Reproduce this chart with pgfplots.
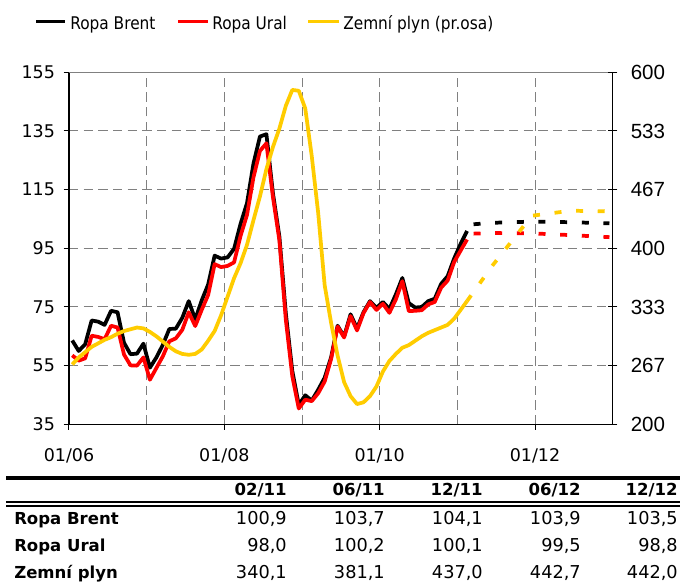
\documentclass[border=0pt]{standalone}
\usepackage{fontspec}
\setmainfont{DejaVu Sans}
\newfontfamily\legfont{DejaVu Sans}[FakeStretch=0.88]
\newfontfamily\arialfont{Liberation Sans}
\usepackage{pgfplots}
\usepackage{pgfplotstable}
\pgfplotsset{compat=1.18}

\definecolor{gasyellow}{RGB}{255,204,0}
\definecolor{gridgray}{RGB}{128,128,128}

% monthly values, x = months since 01/06 (+0.5 = middle of month)
\pgfplotstableread{
t     brent  ural   gas
0.5   63.6   58.5   268
1.5   60.0   56.7   276
2.5   62.3   57.5   282
3.5   70.4   65.2   288
4.5   70.0   64.8   292
5.5   68.9   64.0   296
6.5   73.7   68.6   299
7.5   73.2   68.0   303
8.5   62.8   58.8   306
9.5   58.9   55.1   308
10.5  59.1   55.0   310
11.5  62.5   57.8   309
12.5  54.3   50.2   305
13.5  57.8   54.2   300
14.5  62.1   58.2   294
15.5  67.5   63.3   288
16.5  67.6   64.3   283
17.5  71.3   67.2   280
18.5  77.0   73.2   279
19.5  70.8   68.5   280
20.5  77.2   74.0   285
21.5  82.7   79.1   295
22.5  92.5   89.6   306
23.5  91.5   88.6   324
24.5  91.9   89.0   345
25.5  94.8   90.2   366
26.5  103.3  99.2   383
27.5  110.4  106.4  404
28.5  123.9  119.2  432
29.5  133.1  128.2  459
30.5  133.9  130.8  490
31.5  113.9  112.6  515
32.5  99.1   97.8   536
33.5  72.8   70.6   562
34.5  53.2   51.4   580
35.5  41.6   40.4   579
36.5  44.9   43.4   559
37.5  43.1   42.9   505
38.5  46.8   45.6   440
39.5  50.9   49.6   358
40.5  57.9   57.3   315
41.5  68.6   68.3   278
42.5  64.9   64.6   248
43.5  72.5   71.9   232
44.5  67.7   67.0   223
45.5  73.2   72.9   225
46.5  77.0   76.7   232
47.5  74.7   74.0   243
48.5  76.7   76.1   260
49.5  74.3   73.0   272
50.5  79.3   77.6   280
51.5  84.9   83.8   287
52.5  76.3   73.6   290
53.5  74.8   73.7   295
54.5  75.0   73.9   300
55.5  77.0   75.9   304
56.5  77.8   76.7   307
57.5  82.9   81.6   310
58.5  85.5   84.0   313
59.5  91.5   90.3   320
60.5  96.5   94.2   330
61.5  100.9  98.0   340.1
}\hist

% forecasts
\pgfplotstableread{
t     brent  ural
62.5  103.2  100.0
65.5  103.7  100.2
71.5  104.1  100.1
77.5  103.9  99.5
83.5  103.5  98.8
}\oilfc

\pgfplotstableread{
t     gas
61.5  340.1
65.5  381.1
71.5  437.0
77.5  442.7
83.5  442.0
}\gasfc

\begin{document}
\begin{tikzpicture}
\begin{scope}[x=0.75pt,y=-0.75pt]
\path[use as bounding box] (0,0) rectangle (680,583);
% legend
\draw[black, line width=2.5pt] (36,21.7) -- (65,21.7);
\draw[red, line width=2.5pt] (178,21.7) -- (208,21.7);
\draw[gasyellow, line width=2.5pt] (308,21.7) -- (339,21.7);
\begin{scope}[every node/.style={anchor=base west, inner sep=0pt, font=\legfont\fontsize{13.1}{15}\selectfont}]
\node at (70,29.3) {Ropa Brent};
\node at (212,29.3) {Ropa Ural};
\node at (343,29.3) {Zemní plyn (pr.osa)};
\end{scope}
% table
\draw[line width=3pt] (6,478) -- (680,478);
\draw[line width=1.1pt] (6,502) -- (680,502);
\draw[line width=1.1pt] (6,506) -- (680,506);
\begin{scope}[every node/.style={anchor=base east, inner sep=0pt, font=\bfseries\fontsize{12.4}{14}\selectfont}]
\node at (287,495) {02/11};
\node at (385,495) {06/11};
\node at (483,495) {12/11};
\node at (581,495) {06/12};
\node at (678,495) {12/12};
\end{scope}
\begin{scope}[every node/.style={anchor=base west, inner sep=0pt, font=\bfseries\fontsize{12.4}{14}\selectfont}]
\node at (14,524) {Ropa Brent};
\node at (14,551) {Ropa Ural};
\node at (14,578.3) {Zemní plyn};
\end{scope}
\begin{scope}[every node/.style={anchor=base east, inner sep=0pt, font=\fontsize{13.3}{15}\selectfont}]
\node at (287,524) {100,9}; \node at (385,524) {103,7}; \node at (483,524) {104,1}; \node at (581,524) {103,9}; \node at (678,524) {103,5};
\node at (287,551) {98,0}; \node at (385,551) {100,2}; \node at (483,551) {100,1}; \node at (581,551) {99,5}; \node at (678,551) {98,8};
\node at (287,578.3) {340,1}; \node at (385,578.3) {381,1}; \node at (483,578.3) {437,0}; \node at (581,578.3) {442,7}; \node at (678,578.3) {442,0};
\end{scope}
\end{scope}

\begin{axis}[
    at={(51.75pt,-318.225pt)}, anchor=south west,
    scale only axis, width=407.775pt, height=264pt,
    xmin=0, xmax=84, ymin=35, ymax=155,
    axis x line*=bottom, axis y line*=left,
    axis line style={line width=1pt, -},
    xtick={0,24,48,72}, xticklabels={01/06,01/08,01/10,01/12},
    minor xtick={12,36,60},
    ytick={35,55,75,95,115,135,155},
    xmajorgrids, xminorgrids, ymajorgrids,
    grid style={gridgray, line width=0.75pt, dash pattern=on 7pt off 4pt},
    minor grid style={gridgray, line width=0.75pt, dash pattern=on 7pt off 4pt},
    tick align=outside, major tick length=4pt, minor tick length=0pt,
    tick style={black, line width=0.75pt},
    /pgf/number format/assume math mode=true,
    ticklabel style={font=\fontsize{13.1}{15}\selectfont},
    yticklabel style={xshift=-3pt},
    xticklabel style={yshift=-11pt},
]
\addplot[black, line width=2.8pt, line join=round] table[x=t,y=brent]{\hist};
\addplot[red, line width=2.8pt, line join=round] table[x=t,y=ural]{\hist};
\addplot[black, line width=2.8pt, dash pattern=on 5.25pt off 11pt] table[x=t,y=brent]{\oilfc};
\addplot[red, line width=2.8pt, dash pattern=on 5.25pt off 11pt] table[x=t,y=ural]{\oilfc};
\draw[gridgray, line width=1pt] (rel axis cs:0,1) -- (rel axis cs:1,1);
\end{axis}

\begin{axis}[
    at={(51.75pt,-318.225pt)}, anchor=south west,
    scale only axis, width=407.775pt, height=264pt,
    xmin=0, xmax=84, ymin=200, ymax=600,
    axis x line=none, axis y line*=right,
    axis line style={line width=1pt, -},
    ytick={200,266.667,333.333,400,466.667,533.333,600},
    yticklabels={200,267,333,400,467,533,600},
    tick align=center, major tick length=7pt,
    tick style={black, line width=0.75pt},
    yticklabel style={font=\arialfont\fontsize{15.4}{17}\selectfont, xshift=6.5pt},
]
\addplot[gasyellow, line width=2.8pt, line join=round] table[x=t,y=gas]{\hist};
\addplot[gasyellow, line width=2.8pt, dash pattern=on 5.25pt off 11pt] table[x=t,y=gas]{\gasfc};
\end{axis}
\end{tikzpicture}
\end{document}
